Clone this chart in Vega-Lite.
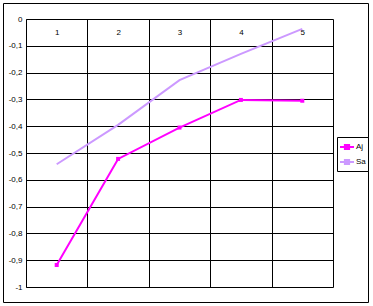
{
  "$schema": "https://vega.github.io/schema/vega-lite/v6.json",
  "width": 365,
  "height": 299,
  "autosize": {"type": "none"},
  "padding": {"left": 3, "top": 3, "right": 5, "bottom": 4},
  "background": "white",
  "config": {
    "view": {"stroke": "black", "strokeWidth": 1},
    "font": "Liberation Sans"
  },
  "data": {
    "values": [
      {"x": "1", "series": "Aj", "value": -0.918},
      {"x": "2", "series": "Aj", "value": -0.522},
      {"x": "3", "series": "Aj", "value": -0.405},
      {"x": "4", "series": "Aj", "value": -0.302},
      {"x": "5", "series": "Aj", "value": -0.305},
      {"x": "1", "series": "Sa", "value": -0.542},
      {"x": "2", "series": "Sa", "value": -0.395},
      {"x": "3", "series": "Sa", "value": -0.228},
      {"x": "4", "series": "Sa", "value": -0.13},
      {"x": "5", "series": "Sa", "value": -0.037}
    ]
  },
  "encoding": {
    "x": {
      "field": "x",
      "type": "ordinal",
      "scale": {"type": "band", "range": [23, 330], "paddingInner": 0, "paddingOuter": 0},
      "axis": {
        "orient": "top",
        "offset": -16,
        "title": null,
        "domain": false,
        "ticks": false,
        "tickSize": 0,
        "tickBand": "extent",
        "grid": true,
        "gridColor": "black",
        "gridOpacity": 1,
        "gridWidth": 1,
        "labelAngle": 0,
        "labelBaseline": "middle",
        "labelPadding": -13,
        "labelFontSize": 8,
        "labelColor": "black"
      }
    },
    "y": {
      "field": "value",
      "type": "quantitative",
      "scale": {"domain": [-1, 0], "range": [284, 16], "nice": false, "zero": false},
      "axis": {
        "orient": "left",
        "offset": -23,
        "title": null,
        "values": [-1, -0.9, -0.8, -0.7, -0.6, -0.5, -0.4, -0.3, -0.2, -0.1, 0],
        "domain": true,
        "domainColor": "black",
        "ticks": false,
        "tickSize": 0,
        "grid": true,
        "gridColor": "black",
        "gridOpacity": 1,
        "gridWidth": 1,
        "labelPadding": 4,
        "labelFontSize": 8,
        "labelColor": "black",
        "labelExpr": "replace(replace(format(datum.value, '.1~f'), '\u2212', '-'), '.', ',')"
      }
    },
    "color": {
      "field": "series",
      "type": "nominal",
      "scale": {"domain": ["Aj", "Sa"], "range": ["#FF00FF", "#CC99FF"]},
      "legend": {
        "title": null,
        "orient": "none",
        "legendX": 334,
        "legendY": 134,
        "strokeColor": "black",
        "fillColor": "white",
        "padding": 2,
        "symbolType": "M-1,0H1M-0.3,-0.3H0.3V0.3H-0.3Z",
        "symbolSize": 196,
        "symbolStrokeWidth": 2,
        "labelFontSize": 8,
        "labelColor": "black",
        "labelOffset": 1,
        "rowPadding": 0
      }
    }
  },
  "layer": [
    {"mark": {"type": "line", "strokeWidth": 2}},
    {
      "transform": [{"filter": "datum.series === 'Aj'"}],
      "mark": {"type": "square", "size": 16, "filled": true, "opacity": 1}
    }
  ]
}
